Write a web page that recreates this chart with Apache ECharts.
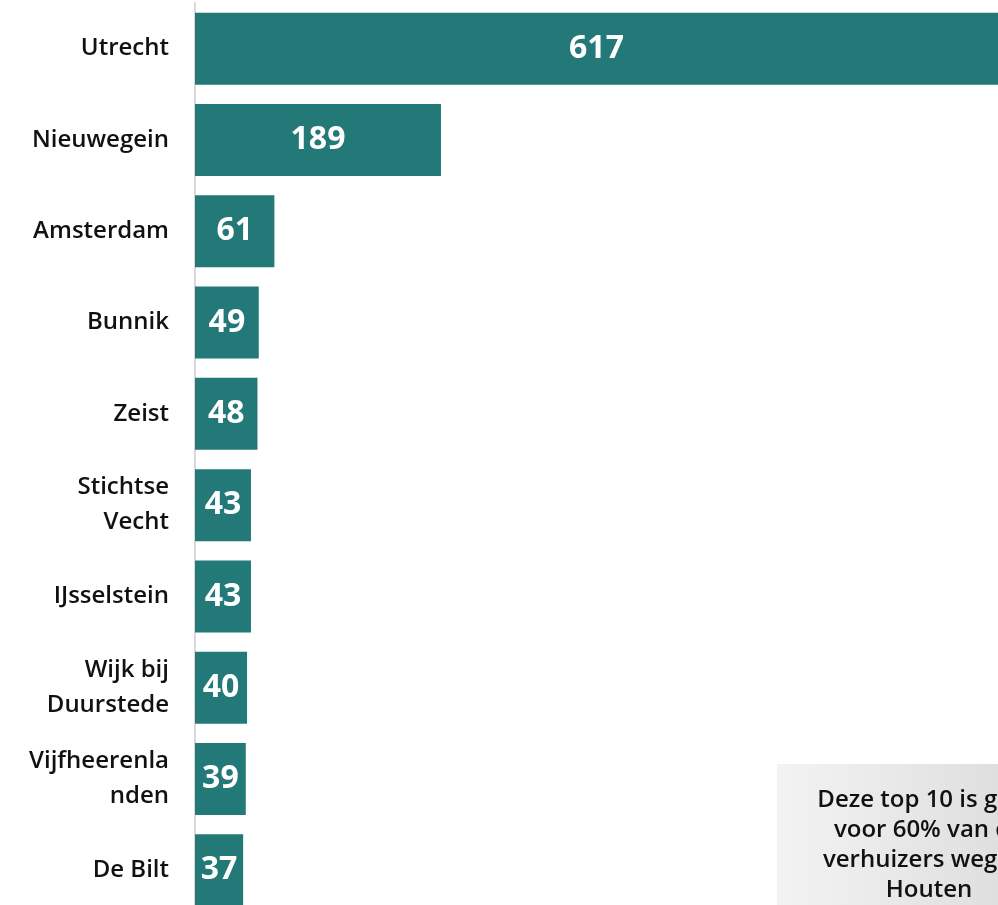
<!DOCTYPE html>
<html>
<head>
<meta charset="utf-8">
<script src="https://cdn.jsdelivr.net/npm/echarts@6/dist/echarts.min.js"></script>
<style>
  html, body { margin: 0; padding: 0; background: #fff; }
  #chart { width: 998px; height: 905px; }
</style>
</head>
<body>
<div id="chart"></div>
<script>
// gemeenten (top 10 vertrek uit Houten)
var gemeenten = [
  "Utrecht", "Nieuwegein", "Amsterdam", "Bunnik", "Zeist",
  "Stichtse\nVecht", "IJsselstein", "Wijk bij\nDuurstede", "Vijfheerenla\nnden", "De Bilt"
];
var aantallen = [617, 189, 61, 49, 48, 43, 43, 40, 39, 37];
var notitie = "Deze top 10 is goed\nvoor 60% van de\nverhuizers weg uit\nHouten";

var chart = echarts.init(document.getElementById("chart"));
var font = "'Open Sans', Lato, sans-serif";

chart.setOption({
  animation: false,
  grid: { left: 195, width: 803, top: 3, height: 913, outerBoundsMode: "none", containLabel: false },
  xAxis: {
    type: "value",
    min: 0,
    max: 617,
    show: false
  },
  yAxis: {
    type: "category",
    inverse: true,
    data: gemeenten,
    axisLine: { show: true, lineStyle: { color: "#d9d9d9", width: 2 } },
    axisTick: { show: false },
    axisLabel: {
      margin: 26,
      fontFamily: font,
      fontWeight: 600,
      fontSize: 24,
      color: "#111",
      align: "right",
      lineHeight: 35
    }
  },
  series: [{
    type: "bar",
    data: aantallen,
    barWidth: 72,
    itemStyle: { color: "#237878" },
    label: {
      show: true,
      position: "inside",
      fontFamily: font,
      fontWeight: "bold",
      fontSize: 32,
      color: "#fff"
    }
  }],
  graphic: [{
    type: "rect",
    left: 777, top: 764,
    shape: { width: 320, height: 160 },
    style: {
      fill: new echarts.graphic.LinearGradient(0, 0, 1, 0, [
        { offset: 0, color: "#f3f3f3" },
        { offset: 1, color: "#d6d6d6" }
      ])
    },
    z: 10
  }, {
    type: "text",
    x: 929, y: 845,
    style: {
      text: notitie,
      fontFamily: font,
      fontWeight: 600,
      fontSize: 24,
      lineHeight: 30,
      fill: "#111",
      align: "center",
      verticalAlign: "middle"
    },
    z: 11
  }]
});
</script>
</body>
</html>
